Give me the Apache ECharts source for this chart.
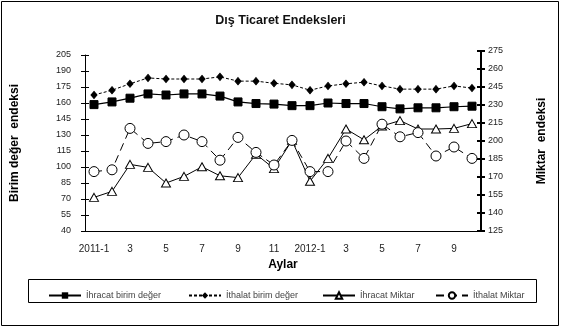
<!DOCTYPE html>
<html><head><meta charset="utf-8">
<script src="https://cdn.jsdelivr.net/npm/echarts@6/dist/echarts.min.js"></script>
<style>html,body{margin:0;padding:0;background:#fff}#c{width:561px;height:329px}</style>
</head><body><div id="c"></div>
<script>
const categories = ['2011-1','2','3','4','5','6','7','8','9','10','11','12','2012-1','2','3','4','5','6','7','8','9','10'];
const exportUnitValue = [158.5,161,164.5,168.5,167.5,168.5,168.5,166.5,161,159.5,159,157.5,157.5,160,159.5,159.5,156.5,154.5,155.5,155.5,156.5,157];
const importUnitValue = [167.5,172,178,183.5,182.5,182.5,182.5,184.5,180.5,180.5,178.5,177,172,176,178,179.5,176,173,173,173,176,174];
const exportQuantity = [153,158,180.5,178,165,170.5,178.5,171,169.5,189,177,200.5,166.5,185.5,210,201,212.5,217,210,210,210.5,214.5];
const importQuantity = [174.5,176,210.5,198,199.5,205,199.5,184,203,190.5,180,200.5,174.5,174.5,200,185.5,214,203.5,207,187.5,195,185.5];
const leftAxisMin = 40, leftAxisMax = 205, leftAxisStep = 15;
const rightAxisMin = 125, rightAxisMax = 275, rightAxisStep = 15;
const seriesNames = ['İhracat birim değer','İthalat birim değer','İhracat Miktar','İthalat Miktar'];

const tickFont = {fontFamily:'Liberation Sans, Arial, sans-serif', fontSize:9, color:'#222'};
const xTickFont = {fontFamily:'Liberation Sans, Arial, sans-serif', fontSize:10, color:'#222'};
const nameFont = {fontFamily:'Liberation Sans, Arial, sans-serif', fontSize:12, fontWeight:'bold', color:'#000'};
const chart = echarts.init(document.getElementById('c'), null, {renderer:'canvas'});
const legendBase = {orient:'horizontal', top:286, itemWidth:32, itemHeight:8, itemGap:5,
  textStyle:{fontFamily:'Liberation Sans, Arial, sans-serif', fontSize:9, color:'#444'}, selectedMode:false};
chart.setOption({
  animation:false,
  backgroundColor:'#fff',
  title:{text:'Dış Ticaret Endeksleri', left:'center', top:9,
    textStyle:{fontFamily:'Liberation Sans, Arial, sans-serif', fontSize:12.5, fontWeight:'bold', color:'#111'}},
  graphic:[
    {type:'rect', shape:{x:1.5,y:1.5,width:557,height:324}, style:{fill:null, stroke:'#000', lineWidth:1}, silent:true},
    {type:'rect', shape:{x:28.5,y:279.5,width:508,height:23}, style:{fill:null, stroke:'#000', lineWidth:1}, silent:true}
  ],
  legend:[
    Object.assign({}, legendBase, {left:43, data:[seriesNames[0]]}),
    Object.assign({}, legendBase, {left:183, data:[seriesNames[1]]}),
    Object.assign({}, legendBase, {left:317, data:[seriesNames[2]]}),
    Object.assign({}, legendBase, {left:430, data:[seriesNames[3]]})
  ],
  grid:[
    {left:85, width:396, top:55, height:176, containLabel:false},
    {left:85, width:396, top:51, height:180, containLabel:false}
  ],
  xAxis:[
    {gridIndex:0, type:'category', data:categories, boundaryGap:true,
     name:'Aylar', nameLocation:'middle', nameGap:28, nameTextStyle:nameFont,
     axisLine:{lineStyle:{color:'#000', width:1}},
     axisTick:{interval:0, length:4, lineStyle:{color:'#000'}},
     axisLabel:Object.assign({interval:1, margin:13}, xTickFont), splitLine:{show:false}},
    {gridIndex:1, type:'category', data:categories, boundaryGap:true,
     axisLine:{show:false},
     axisTick:{interval:0, inside:true, length:4, lineStyle:{color:'#000'}},
     axisLabel:{show:false}, splitLine:{show:false}}
  ],
  yAxis:[
    {gridIndex:0, type:'value', position:'left', min:leftAxisMin, max:leftAxisMax, interval:leftAxisStep,
     name:'Birim değer  endeksi', nameLocation:'middle', nameGap:64, nameRotate:90, nameTextStyle:nameFont,
     axisLine:{show:true, lineStyle:{color:'#000', width:1}},
     axisTick:{show:true, length:4, lineStyle:{color:'#000'}},
     axisLabel:Object.assign({margin:14}, tickFont), splitLine:{show:false}},
    {gridIndex:0, type:'value', position:'left', min:leftAxisMin, max:leftAxisMax, interval:leftAxisStep,
     axisLine:{show:false}, axisTick:{show:true, inside:true, length:4, lineStyle:{color:'#000'}},
     axisLabel:{show:false}, splitLine:{show:false}},
    {gridIndex:1, type:'value', position:'right', min:rightAxisMin, max:rightAxisMax, interval:rightAxisStep,
     name:'Miktar  endeksi', nameLocation:'middle', nameGap:55, nameRotate:90, nameTextStyle:nameFont,
     axisLine:{show:true, lineStyle:{color:'#000', width:2}},
     axisTick:{show:true, length:4, lineStyle:{color:'#000', width:2}},
     axisLabel:Object.assign({margin:7}, tickFont), splitLine:{show:false}},
    {gridIndex:1, type:'value', position:'right', min:rightAxisMin, max:rightAxisMax, interval:rightAxisStep,
     axisLine:{show:false}, axisTick:{show:true, inside:true, length:4, lineStyle:{color:'#000', width:2}},
     axisLabel:{show:false}, splitLine:{show:false}}
  ],
  series:[
    {name:seriesNames[0], type:'line', xAxisIndex:0, yAxisIndex:0, data:exportUnitValue,
     symbol:'rect', symbolSize:8, lineStyle:{color:'#000', width:1.2, type:'solid'},
     itemStyle:{color:'#000', borderColor:'#000'}},
    {name:seriesNames[1], type:'line', xAxisIndex:0, yAxisIndex:0, data:importUnitValue,
     symbol:'diamond', symbolSize:[6,7], lineStyle:{color:'#000', width:1, type:[3,2]},
     itemStyle:{color:'#000', borderColor:'#000'}},
    {name:seriesNames[2], type:'line', xAxisIndex:1, yAxisIndex:2, data:exportQuantity,
     symbol:'triangle', symbolSize:[9,8], showAllSymbol:true, lineStyle:{color:'#000', width:1, type:'solid'},
     itemStyle:{color:'#fff', borderColor:'#000', borderWidth:1}},
    {name:seriesNames[3], type:'line', xAxisIndex:1, yAxisIndex:2, data:importQuantity,
     symbol:'circle', symbolSize:10, showAllSymbol:true, lineStyle:{color:'#000', width:1, type:[8,5]},
     itemStyle:{color:'#fff', borderColor:'#000', borderWidth:1}}
  ]
});
</script></body></html>
